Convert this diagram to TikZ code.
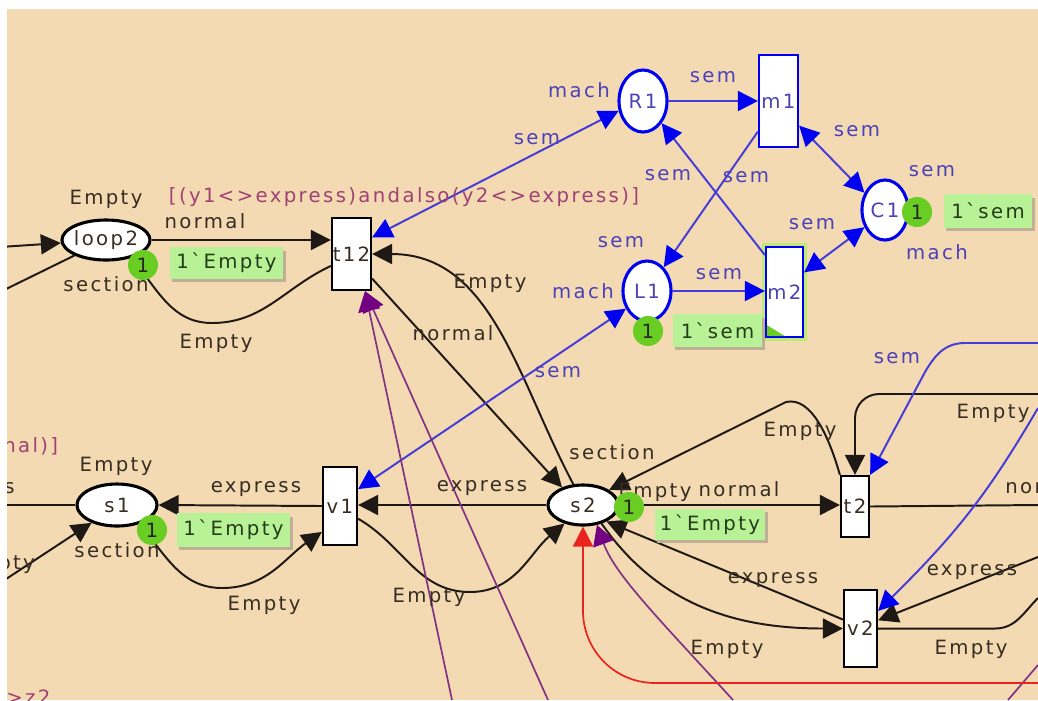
\documentclass[tikz,border=0pt]{standalone}
\usepackage{fontspec}
\setmainfont{DejaVu Sans}[LetterSpace=12,Ligatures=TeXOff]
\usetikzlibrary{shapes.geometric,arrows.meta}

\definecolor{canvas}{RGB}{243,218,178}
\definecolor{arcblack}{RGB}{30,25,20}
\definecolor{inscr}{RGB}{55,45,35}
\definecolor{semblue}{RGB}{70,60,215}
\definecolor{tipblue}{RGB}{0,0,240}
\definecolor{semtext}{RGB}{75,65,185}
\definecolor{guardc}{RGB}{160,65,115}
\definecolor{tokgreen}{RGB}{105,205,35}
\definecolor{mkgreen}{RGB}{185,242,150}
\definecolor{mktext}{RGB}{35,60,25}
\definecolor{mkshade}{RGB}{190,175,150}
\definecolor{pline}{RGB}{130,50,130}
\definecolor{ptip}{RGB}{115,0,130}
\definecolor{rline}{RGB}{235,35,30}
\definecolor{glow}{RGB}{190,235,120}

\tikzset{
  cpnplace/.style={ellipse, draw=black, line width=2.2pt, fill=white, inner xsep=-4pt, inner ysep=0pt, text=inscr},
  semplace/.style={cpnplace, draw=tipblue, text=semtext},
  cpntrans/.style={rectangle, draw=black, line width=1.6pt, fill=white, inner sep=0pt, text=inscr},
  semtrans/.style={cpntrans, draw=tipblue, text=semtext},
  tok/.style={circle, fill=tokgreen, inner sep=0pt, minimum size=0.75cm, text=black!85},
  mk/.style={rectangle, fill=mkgreen, inner sep=0pt, text=mktext},
  lbl/.style={text=inscr, inner sep=0pt},
  semlbl/.style={text=semtext, inner sep=0pt},
  guardlbl/.style={text=guardc, inner sep=0pt},
  cpnarc/.style={draw=arcblack, line width=1.4pt, >={Triangle[length=0.5cm,width=0.5cm]}},
  semarc/.style={draw=semblue, line width=1.4pt, >={Triangle[length=0.5cm,width=0.5cm,color=tipblue]}},
  purplearc/.style={draw=pline, line width=1.2pt, >={Triangle[length=0.5cm,width=0.55cm,color=ptip]}},
  redarc/.style={draw=rline, line width=1.2pt, >={Triangle[length=0.5cm,width=0.5cm]}},
}

\begin{document}
\begin{tikzpicture}[x=0.025cm, y=-0.025cm, font=\fontsize{14}{16}\selectfont]
    \useasboundingbox (0,0) rectangle (1038,700);
    \fill[white] (0,0) rectangle (1038,700);
    \fill[canvas] (7,9) rectangle (1038,700);
    \clip (7,9) rectangle (1038,700);

    % places and transitions
    \node (loop2) at (106,240) [cpnplace, minimum width=2.2cm, minimum height=1cm] {loop2};
    \node (s1) at (117,505) [cpnplace, minimum width=2cm, minimum height=1.05cm] {s1};
    \node (s2) at (583,505) [cpnplace, minimum width=1.75cm, minimum height=1cm] {s2};
    \node (R1) at (643,101) [semplace, minimum width=1.2cm, minimum height=1.55cm] {R1};
    \node (L1) at (647,291) [semplace, minimum width=1.2cm, minimum height=1.5cm] {L1};
    \node (C1) at (885,210) [semplace, minimum width=1.15cm, minimum height=1.5cm] {C1};
    \node (t12) at (351.5,254) [cpntrans, minimum width=0.975cm, minimum height=1.8cm] {t12};
    \node (v1) at (340,506) [cpntrans, minimum width=0.85cm, minimum height=1.95cm] {v1};
    \node (t2) at (855,506.5) [cpntrans, minimum width=0.7cm, minimum height=1.525cm] {t2};
    \node (v2) at (860.5,628.5) [cpntrans, minimum width=0.825cm, minimum height=1.925cm] {v2};
    \node (m1) at (778.5,101) [semtrans, minimum width=0.975cm, minimum height=2.3cm] {m1};
    \node (m2) at (784.5,292) [semtrans, minimum width=0.925cm, minimum height=2.25cm, preaction={draw=glow, line width=5pt}] {m2};
    \fill[tokgreen] ([shift={(2,-2)}]m2.south west) -- ++(18,0) -- ++(-18,-11) -- cycle;

    % free ends at the edge of the sheet
    \coordinate (w1) at (0,247);
    \coordinate (w2) at (0,292);
    \coordinate (w3) at (0,505);
    \coordinate (w4) at (0,583);
    \coordinate (e1) at (1038,505);
    \coordinate (e2) at (1038,394);
    \coordinate (e3) at (1038,557);
    \coordinate (e4) at (1038,598);
    \coordinate (e5) at (1038,343);
    \coordinate (e6) at (1038,408);
    \coordinate (e7) at (1038,665);
    \coordinate (e8) at (1038,683);
    \coordinate (b1) at (452,700);
    \coordinate (b2) at (548,700);
    \coordinate (b3) at (733,700);
    \coordinate (b4) at (1008,700);

    % black arcs
    \draw[cpnarc,->] (w1) -- (loop2);
    \draw[cpnarc] (loop2) -- (w2);
    \draw[cpnarc,->] (loop2.east) -- (loop2.east -| t12.west);
    \draw[cpnarc] (t12.210) to[out=205,in=0] (212,323) to[out=180,in=-50] (loop2.-35);
    \draw[cpnarc,->] (s2.115) to[out=118,in=0] (t12.east);
    \draw[cpnarc,->] (t12.-50) -- (s2.140);
    \draw[cpnarc,->] (s2.west) -- (s2.west -| v1.east);
    \draw[cpnarc,->] (v1.west) -- (s1.east);
    \draw[cpnarc] (s1.west) -- (w3);
    \draw[cpnarc,->] (w4) -- (s1.215);
    \draw[cpnarc,->] (s1.-40) to[out=-50,in=180] (222,588) to[out=0,in=215] (v1.235);
    \draw[cpnarc,->] (v1.-35) to[out=-30,in=180] (470,592) to[out=0,in=220] (s2.225);
    \draw[cpnarc,->] (s2.east) -- (s2.east -| t2.west);
    \draw[cpnarc] (t2.east) -- (e1);
    \draw[cpnarc,->] (t2.north west) .. controls (830,440) and (812,396) .. (786,402) -- (s2.30);
    \draw[cpnarc,->,rounded corners=0.6cm] (e2) -| (t2.north);
    \draw[cpnarc,->] (e3) -- (v2.25);
    \draw[cpnarc] (v2.east) -- (995,628.5) to[out=0,in=225] (e4);
    \draw[cpnarc,->] (s2.-45) to[out=-55,in=180] (v2.west);
    \draw[cpnarc,->] (v2.153) -- (s2.-35);

    % blue arcs
    \draw[semarc,->] (R1.east) -- (R1.east -| m1.west);
    \draw[semarc,<->] (m1.-50) -- (C1.140);
    \draw[semarc,<->] (m2.45) -- (C1.220);
    \draw[semarc,->] (L1.east) -- (L1.east -| m2.west);
    \draw[semarc,->] (m1.236) -- (L1.55);
    \draw[semarc,->] (m2.118) -- (R1.-50);
    \draw[semarc,<->] (t12.39) -- (R1.202);
    \draw[semarc,<->] (v1.43) -- (L1.220);
    \draw[semarc,->] (e5) -- (965,343) .. controls (945,343) and (935,355) .. (925,372) -- (t2.north east);
    \draw[semarc,->] (e6) .. controls (990,490) and (960,530) .. (v2.45);

    % purple and red arcs
    \draw[purplearc,->] (b1) -- (t12.-70);
    \draw[purplearc,->] (b2) -- (t12.-70);
    \draw[purplearc,->] (b3) .. controls (660,620) and (615,575) .. (s2.-55);
    \draw[purplearc] (b4) -- (e7);
    \draw[redarc,->,rounded corners=1.8cm] (e8) -| (s2.south);

    % inscriptions
    \node (l1) at (106,199) [lbl] {Empty};
    \node (l2) at (205,221) [lbl] {normal};
    \node (l3) at (106,284) [lbl] {section};
    \node (l4) at (216,343) [lbl] {Empty};
    \node (l5) at (404,197) [guardlbl] {[(y1<>express)andalso(y2<>express)]};
    \node (l6) at (490,283) [lbl] {Empty};
    \node (l7) at (453,333) [lbl] {normal};
    \node (l8) at (537,139) [semlbl] {sem};
    \node (l9) at (579,90) [semlbl] {mach};
    \node (l10) at (713,77) [semlbl] {sem};
    \node (l11) at (857,131) [semlbl] {sem};
    \node (l12) at (932,171) [semlbl] {sem};
    \node (l13) at (937,252) [semlbl] {mach};
    \node (l14) at (812,224) [semlbl] {sem};
    \node (l15) at (668,175) [semlbl] {sem};
    \node (l16) at (746,177) [semlbl] {sem};
    \node (l17) at (621,242) [semlbl] {sem};
    \node (l18) at (583,291) [semlbl] {mach};
    \node (l19) at (719,274) [semlbl] {sem};
    \node (l20) at (558,372) [semlbl] {sem};
    \node (l21) at (897,358) [semlbl] {sem};
    \node (l22) at (3,446) [guardlbl, anchor=west] {nal)]};
    \node (l23) at (116,466) [lbl] {Empty};
    \node (l24) at (4,488) [lbl, anchor=west] {s};
    \node (l25) at (256,489) [lbl] {express};
    \node (l26) at (482,488) [lbl] {express};
    \node (l27) at (612,452) [lbl] {section};
    \node (l28) at (655,492) [lbl] {Empty};
    \node (l29) at (739,489) [lbl] {normal};
    \node (l30) at (800,431) [lbl] {Empty};
    \node (l31) at (993,413) [lbl] {Empty};
    \node (l32) at (1005,488) [lbl, anchor=west] {nor};
    \node (l33) at (117,550) [lbl] {section};
    \node (l34) at (264,605) [lbl] {Empty};
    \node (l35) at (429,597) [lbl] {Empty};
    \node (l36) at (-2,565) [lbl, anchor=west] {pty};
    \node (l37) at (773,580) [lbl] {express};
    \node (l38) at (972,572) [lbl] {express};
    \node (l39) at (727,649) [lbl] {Empty};
    \node (l40) at (971,649) [lbl] {Empty};
    \node (l41) at (6,690) [guardlbl, anchor=north west] {>z2};

    % tokens and markings
    \node (tk1) at (143,265) [tok] {1};
    \fill[mkshade] (172,251) rectangle (286,282);
    \node (mk1) at (226.5,263) [mk, minimum width=2.825cm, minimum height=0.8cm] {1`Empty};
    \node (tk2) at (152,530) [tok] {1};
    \fill[mkshade] (179,517) rectangle (293,550);
    \node (mk2) at (233.5,530) [mk, minimum width=2.825cm, minimum height=0.85cm] {1`Empty};
    \node (tk3) at (629,507) [tok] {1};
    \fill[mkshade] (657,512) rectangle (768,543);
    \node (mk3) at (710,524.5) [mk, minimum width=2.75cm, minimum height=0.775cm] {1`Empty};
    \node (tk4) at (648,331) [tok] {1};
    \fill[mkshade] (675,318) rectangle (765,350);
    \node (mk4) at (717.5,330.5) [mk, minimum width=2.225cm, minimum height=0.825cm] {1`sem};
    \node (tk5) at (917,212) [tok] {1};
    \fill[mkshade] (946,198) rectangle (1035,231);
    \node (mk5) at (988,211) [mk, minimum width=2.2cm, minimum height=0.85cm] {1`sem};
\end{tikzpicture}
\end{document}
